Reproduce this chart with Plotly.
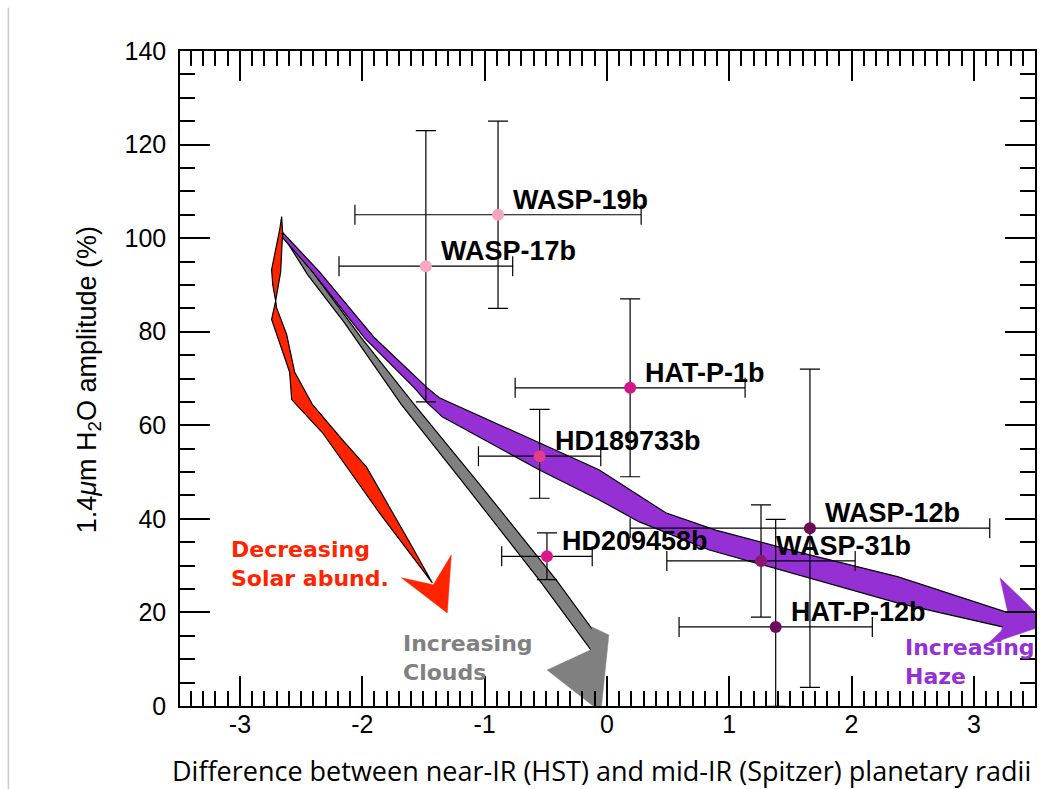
import plotly.graph_objects as go

# ---------------- data ----------------
planets = ["WASP-19b", "WASP-17b", "HAT-P-1b", "HD189733b", "HD209458b",
           "WASP-31b", "WASP-12b", "HAT-P-12b"]
radius_diff = [-0.89, -1.48, 0.19, -0.55, -0.49, 1.26, 1.66, 1.38]
h2o_amp = [105, 94, 68, 53.4, 32, 31, 38, 16.9]
radius_err = [1.17, 0.71, 0.94, 0.50, 0.37, 0.77, 1.47, 0.79]
amp_err_plus = [20, 29, 19, 10, 5, 12, 34, 23]
amp_err_minus = [20, 29, 19, 9, 5, 12, 34, 17]
marker_colors = ["#f5a3c0", "#f5a8c2", "#d3168c", "#e23c8c", "#d9188c",
                 "#8c1670", "#6a0a58", "#6e0c5e"]

# model tracks (band outlines, data units)
solar_x = [-2.659, -2.651, -2.667, -2.708, -2.700, -2.618, -2.553, -2.471, -2.406,
           -2.162, -1.966, -1.591, -1.427, -1.860, -2.325, -2.577, -2.594, -2.741,
           -2.708, -2.732, -2.741, -2.675]
solar_y = [104.6, 101.2, 92.8, 86.6, 85.1, 79.4, 71.4, 67.6, 64.4,
           56.9, 51.1, 34.0, 26.3, 41.3, 58.4, 65.5, 71.4, 82.6,
           86.6, 90.1, 93.3, 101.8]
solar_head_x = [-1.680, -1.419, -1.272, -1.305]
solar_head_y = [27.4, 25.9, 32.3, 19.9]

cloud_x = [-2.659, -2.447, -2.145, -1.680, -1.191, -0.555, -0.131, -0.024,
           -0.416, -1.044, -1.574, -2.007, -2.406, -2.643]
cloud_y = [101.0, 92.2, 81.9, 64.4, 48.3, 27.0, 12.0, 13.0,
           27.0, 47.5, 64.4, 78.7, 92.8, 100.5]
cloud_head_x = [-0.131, -0.489, -0.049, 0.016, -0.122]
cloud_head_y = [12.0, 7.7, -1.3, 15.2, 16.9]

haze_x = [-2.651, -2.349, -1.900, -1.468, -1.370, -0.555, -0.065, 0.481, 0.889,
          1.566, 2.382, 3.361, 3.344, 2.382, 1.566, 0.832, 0.261, -0.065,
          -0.555, -1.346, -1.468, -1.574, -1.982, -2.406, -2.651]
haze_y = [101.2, 92.8, 78.7, 68.0, 65.9, 56.3, 50.5, 41.3, 37.6,
          32.9, 27.6, 19.25, 16.26, 22.0, 28.0, 33.4, 39.4, 44.1,
          50.5, 61.8, 64.8, 68.0, 78.7, 92.8, 100.1]
haze_head_x = [3.279, 3.214, 3.605, 3.100, 3.222]
haze_head_y = [19.9, 27.4, 17.5, 13.0, 16.0]

x_ticks = [-3, -2, -1, 0, 1, 2, 3]
x_tick_text = ["-3", "-2", "-1", "0", "1", "2", "3"]
y_ticks = [0, 20, 40, 60, 80, 100, 120, 140]

RED = "#ff2400"
GRAY = "#808080"
PURPLE = "#9530d4"

fig = go.Figure()


def band(xs, ys, color, outline=True):
    fig.add_trace(go.Scatter(
        x=xs + xs[:1], y=ys + ys[:1], mode="lines", fill="toself",
        fillcolor=color,
        line=dict(color="black" if outline else color, width=1.2 if outline else 0.5),
        hoverinfo="skip", showlegend=False))


band(solar_x, solar_y, RED)
band(solar_head_x, solar_head_y, RED, outline=False)
band(cloud_x, cloud_y, GRAY)
band(cloud_head_x, cloud_head_y, GRAY, outline=False)
band(haze_x, haze_y, PURPLE)
band(haze_head_x, haze_head_y, PURPLE, outline=False)

fig.add_trace(go.Scatter(
    x=radius_diff, y=h2o_amp, mode="markers",
    marker=dict(size=12, color=marker_colors, line=dict(width=0)),
    error_x=dict(type="data", array=radius_err, color="black", thickness=1.2, width=10),
    error_y=dict(type="data", array=amp_err_plus, arrayminus=amp_err_minus,
                 color="black", thickness=1.2, width=10),
    showlegend=False, hoverinfo="skip"))

LBL = "Liberation Sans, Arial, sans-serif"
WIDE = "DejaVu Sans, Liberation Sans, sans-serif"
annotations = []
for name, xv, yv in zip(planets, radius_diff, h2o_amp):
    annotations.append(dict(
        x=xv, y=yv, xref="x", yref="y", text="<b>%s</b>" % name, showarrow=False,
        xanchor="left", yanchor="middle", xshift=13, yshift=15,
        font=dict(family=LBL, size=27, color="black")))

trend_labels = [
    ("Decreasing<br>Solar abund.", -3.09, 30.4, RED),
    ("Increasing<br>Clouds", -1.68, 10.3, GRAY),
    ("Increasing<br>Haze", 2.423, 9.5, PURPLE),
]
for txt, xv, yv, col in trend_labels:
    annotations.append(dict(
        x=xv, y=yv, xref="x", yref="y", text="<b>%s</b>" % txt, showarrow=False,
        xanchor="left", yanchor="middle", align="left",
        font=dict(family=WIDE, size=22, color=col)))

# axis titles
annotations.append(dict(
    x=-0.107, y=0.498, xref="paper", yref="paper", textangle=-90,
    text="1.4<i>μ</i>m H<sub>2</sub>O amplitude (%)", showarrow=False,
    xanchor="center", yanchor="middle",
    font=dict(family=LBL, size=27, color="black")))
annotations.append(dict(
    x=-0.0117, y=-0.0992, xref="paper", yref="paper",
    text="Difference between near-IR (HST) and mid-IR (Spitzer) planetary radii",
    showarrow=False, xanchor="left", yanchor="middle",
    font=dict(family="Open Sans, Lato, sans-serif", size=27, color="black")))

axis_common = dict(
    showline=True, linecolor="black", linewidth=1.5, mirror="allticks",
    ticks="inside", ticklen=30, tickwidth=1.5, tickcolor="black",
    showgrid=False, zeroline=False,
    tickfont=dict(family=LBL, size=25, color="black"),
)

fig.update_layout(
    width=1042, height=789,
    margin=dict(l=180, r=5, t=51, b=83),
    paper_bgcolor="white", plot_bgcolor="white",
    xaxis=dict(range=[-3.49, 3.5], tickmode="array", tickvals=x_ticks,
               ticktext=x_tick_text, ticklabelstandoff=-5,
               minor=dict(ticks="inside", ticklen=15, tickwidth=1.5,
                          tickcolor="black", dtick=0.1, tick0=0, showgrid=False),
               **axis_common),
    yaxis=dict(range=[0, 140], tickmode="array", tickvals=y_ticks,
               ticklabelstandoff=7,
               minor=dict(ticks="inside", ticklen=15, tickwidth=1.5,
                          tickcolor="black", dtick=5, tick0=0, showgrid=False),
               **axis_common),
    annotations=annotations,
    shapes=[dict(type="line", xref="paper", yref="paper",
                 x0=-0.2007, x1=-0.2007, y0=-0.127, y1=1.066,
                 line=dict(color="#c8c8c8", width=1.5))],
    showlegend=False,
)

fig.write_html("out.html")
